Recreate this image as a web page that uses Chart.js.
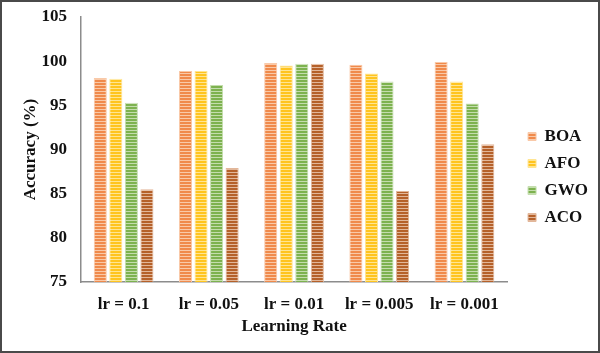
<!DOCTYPE html>
<html>
<head>
<meta charset="utf-8">
<script src="https://cdn.jsdelivr.net/npm/chart.js@4"></script>
<style>
  html, body { margin: 0; padding: 0; background: #fff; }
  #marco { width: 596px; height: 349px; border: 2px solid #4a4a4a; position: relative; }
  #grafico { display: block; }
</style>
</head>
<body>
<div id="marco"><canvas id="grafico" width="596" height="349"></canvas></div>
<script>
// Datos del gráfico
const categorias = ['lr = 0.1', 'lr = 0.05', 'lr = 0.01', 'lr = 0.005', 'lr = 0.001'];
const series = ['BOA', 'AFO', 'GWO', 'ACO'];
const valoresBOA = [98.1, 98.9, 99.8, 99.6, 99.9];
const valoresAFO = [98.0, 98.9, 99.5, 98.6, 97.7];
const valoresGWO = [95.3, 97.3, 99.7, 97.7, 95.2];
const valoresACO = [85.5, 87.9, 99.7, 85.3, 90.6];
const ticksY = [75, 80, 85, 90, 95, 100, 105];

// Colores base y claros para las rayas
const colores = [
    { base: '#F08A4B', claro: '#F9C9A8' },
    { base: '#FFC41F', claro: '#FFE593' },
    { base: '#7DB24F', claro: '#C4DDAE' },
    { base: '#B5612A', claro: '#E2B79A' }
];

// Patrón de rayas horizontales
function crearRayas(base, claro) {
    const c = document.createElement('canvas');
    c.width = 4;
    c.height = 3;
    const x = c.getContext('2d');
    x.fillStyle = base;
    x.fillRect(0, 0, 4, 3);
    x.fillStyle = claro;
    x.fillRect(0, 2, 4, 1);
    return x.createPattern(c, 'repeat');
}

const valores = [valoresBOA, valoresAFO, valoresGWO, valoresACO];
const fuente = 'Liberation Serif';

const datasets = series.map((nombre, i) => ({
    label: nombre,
    data: valores[i],
    backgroundColor: crearRayas(colores[i].base, colores[i].claro),
    borderColor: colores[i].claro,
    borderWidth: 1,
    barPercentage: 0.84,
    categoryPercentage: 0.73
}));

// Separar la leyenda del área del gráfico
const moverLeyenda = {
    id: 'moverLeyenda',
    afterLayout(chart) {
        chart.legend.left += 11;
        chart.legend.right += 11;
    }
};

const ctx = document.getElementById('grafico').getContext('2d');
new Chart(ctx, {
    type: 'bar',
    data: {
        labels: categorias,
        datasets: datasets
    },
    plugins: [moverLeyenda],
    options: {
        responsive: false,
        animation: false,
        layout: {
            padding: { top: 15, right: 11, bottom: 14, left: 16 }
        },
        scales: {
            x: {
                afterFit: (eje) => {
                    eje.height = 55;
                },
                grid: { display: false, drawTicks: false },
                border: { color: '#8c8c8c', width: 1.5 },
                ticks: {
                    color: '#111',
                    padding: 12,
                    font: { family: fuente, size: 17, weight: 'bold' }
                },
                title: {
                    display: true,
                    text: 'Learning Rate',
                    color: '#111',
                    padding: { top: 3, bottom: 0 },
                    font: { family: fuente, size: 17, weight: 'bold' }
                }
            },
            y: {
                min: 75,
                max: 105,
                afterBuildTicks: (eje) => {
                    eje.ticks = ticksY.map(v => ({ value: v }));
                },
                afterFit: (eje) => {
                    eje.width = 63;
                    eje.paddingTop = 0;
                    eje.paddingBottom = 0;
                },
                grid: { display: false, drawTicks: false },
                border: { color: '#8c8c8c', width: 1.5 },
                ticks: {
                    color: '#111',
                    padding: 14,
                    font: { family: fuente, size: 17, weight: 'bold' }
                },
                title: {
                    display: true,
                    text: 'Accuracy (%)',
                    color: '#111',
                    padding: { top: 2, bottom: 2 },
                    font: { family: fuente, size: 17, weight: 'bold' }
                }
            }
        },
        plugins: {
            legend: {
                position: 'right',
                labels: {
                    boxWidth: 8,
                    boxHeight: 8,
                    padding: 10,
                    color: '#111',
                    font: { family: fuente, size: 17, weight: 'bold' }
                }
            },
            tooltip: { enabled: false }
        }
    }
});
</script>
</body>
</html>
